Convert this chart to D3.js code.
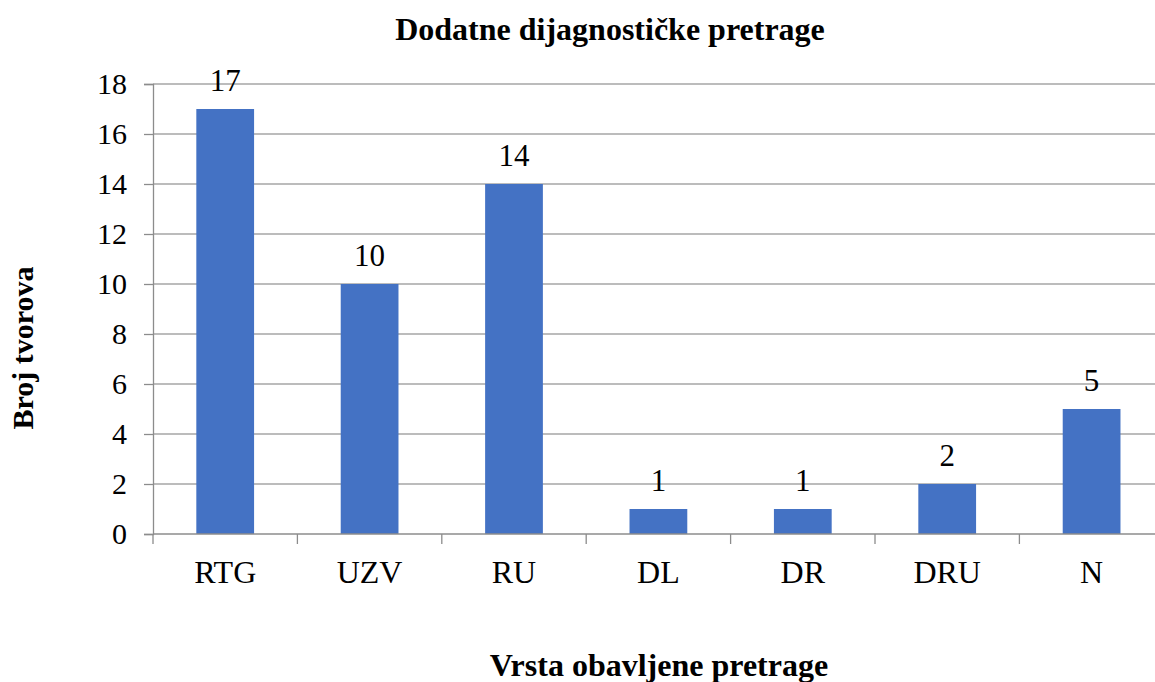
<!DOCTYPE html>
<html>
<head>
<meta charset="utf-8">
<script src="https://cdn.jsdelivr.net/npm/d3@7"></script>
<style>
  html, body { margin: 0; padding: 0; background: #ffffff; }
  svg { display: block; }
</style>
</head>
<body>
<svg id="chart" width="1155" height="682"></svg>
<script>
const categories = ["RTG", "UZV", "RU", "DL", "DR", "DRU", "N"];
const values = [17, 10, 14, 1, 1, 2, 5];
const yTicks = [0, 2, 4, 6, 8, 10, 12, 14, 16, 18];
const titleText = "Dodatne dijagnostičke pretrage";
const xTitleText = "Vrsta obavljene pretrage";
const yTitleText = "Broj tvorova";

(function () {
const svg = d3.select("#chart");
const plotLeft = 153, plotBottom = 534, plotTop = 84;
const bandW = 144.4;
const plotRight = plotLeft + bandW * categories.length;

const font = "'Liberation Serif', 'Times New Roman', serif";

const x = d3.scaleBand().domain(categories).range([plotLeft, plotRight]).paddingInner(0.6).paddingOuter(0.3);
const y = d3.scaleLinear().domain([0, 18]).range([plotBottom, plotTop]);

// gridlines
svg.append("g").selectAll("line").data(yTicks.filter(d => d > 0)).join("line")
  .attr("x1", plotLeft).attr("x2", plotRight)
  .attr("y1", d => y(d)).attr("y2", d => y(d))
  .attr("stroke", "#a6a6a6").attr("stroke-width", 1.3);

// bars
svg.append("g").selectAll("rect").data(values).join("rect")
  .attr("x", (d, i) => x(categories[i]))
  .attr("width", x.bandwidth())
  .attr("y", d => y(d))
  .attr("height", d => y(0) - y(d))
  .attr("fill", "#4472c4");

// y axis
const yAxis = d3.axisLeft(y).tickValues(yTicks).tickSize(9).tickPadding(17).tickFormat(d3.format("d"));
const gy = svg.append("g").attr("transform", `translate(${plotLeft},0)`).call(yAxis);
gy.select(".domain").attr("stroke", "#8c8c8c").attr("stroke-width", 1.3);
gy.selectAll(".tick line").attr("stroke", "#8c8c8c").attr("stroke-width", 1.3);
gy.selectAll(".tick text").attr("font-family", font).attr("font-size", 30).attr("fill", "#000");

// x axis baseline + ticks at band boundaries
svg.append("line").attr("x1", plotLeft).attr("x2", plotRight).attr("y1", plotBottom).attr("y2", plotBottom)
  .attr("stroke", "#8c8c8c").attr("stroke-width", 1.3);
const bounds = d3.range(categories.length + 1).map(i => plotLeft + i * bandW);
svg.append("g").selectAll("line").data(bounds).join("line")
  .attr("x1", d => d).attr("x2", d => d)
  .attr("y1", plotBottom).attr("y2", plotBottom + 10)
  .attr("stroke", "#8c8c8c").attr("stroke-width", 1.3);

// category labels
svg.append("g").selectAll("text").data(categories).join("text")
  .attr("x", d => x(d) + x.bandwidth() / 2)
  .attr("y", 583)
  .attr("text-anchor", "middle")
  .attr("font-family", font).attr("font-size", 32).attr("fill", "#000")
  .text(d => d);

// value labels
svg.append("g").selectAll("text").data(values).join("text")
  .attr("x", (d, i) => x(categories[i]) + x.bandwidth() / 2)
  .attr("y", d => y(d) - 18)
  .attr("text-anchor", "middle")
  .attr("font-family", font).attr("font-size", 31).attr("fill", "#000")
  .text(d => d);

// title
svg.append("text").attr("x", 610).attr("y", 40).attr("text-anchor", "middle")
  .attr("font-family", font).attr("font-size", 32).attr("font-weight", "bold").attr("fill", "#000")
  .text(titleText);

// x title
svg.append("text").attr("x", 659).attr("y", 676).attr("text-anchor", "middle")
  .attr("font-family", font).attr("font-size", 32).attr("font-weight", "bold").attr("fill", "#000")
  .text(xTitleText);

// y title
svg.append("text").attr("transform", "translate(33,348) rotate(-90)").attr("text-anchor", "middle")
  .attr("font-family", font).attr("font-size", 30).attr("font-weight", "bold").attr("fill", "#000")
  .text(yTitleText);
})();
</script>
</body>
</html>
